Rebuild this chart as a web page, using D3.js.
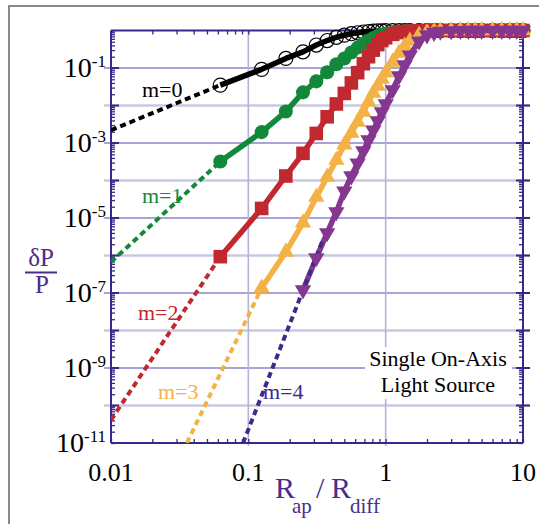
<!DOCTYPE html>
<html lang="en">
<head>
<meta charset="UTF-8">
<title>dP/P vs Rap/Rdiff</title>
<style>
  body { margin: 0; background: #fff; }
  text { font-family: "Liberation Serif", "Times New Roman", serif; }
</style>
</head>
<body>
<script src="https://cdn.jsdelivr.net/npm/d3@7/dist/d3.min.js"></script>
<script>
// sampled radii (Rap / Rdiff) where markers sit
var xs = [0.0625, 0.125, 0.1875, 0.25, 0.3125, 0.375, 0.4375, 0.5, 0.5625, 0.625, 0.6875, 0.75,
          0.8125, 0.875, 0.9375, 1, 1.125, 1.25, 1.375, 1.5, 1.75, 2, 2.25, 2.5, 3, 3.5, 4, 4.5,
          5, 6, 7, 8, 9, 10];

// dP/P, one value per xs entry (null = no marker)
var m0 = [0.035, 0.092, 0.18, 0.27, 0.41, 0.54, 0.66, 0.75, 0.82, 0.87, 0.91, 0.94,
          0.96, 0.97, 0.98, 0.985, 0.99, 0.995, 1, 1, 1, 1, 1, 1, 1, 1, 1, 1, 1, 1, 1, 1, 1, 1];
var m1 = [3.2e-4, 1.95e-3, 6.9e-3, 0.0224, 0.044, 0.077, 0.126, 0.18, 0.26, 0.35, 0.45, 0.54,
          0.63, 0.71, 0.78, 0.83, 0.90, 0.94, 0.965, 0.98, 0.99, 1, 1, 1, 1, 1, 1, 1, 1, 1, 1, 1, 1, 1];
var m2 = [9.3e-7, 1.8e-5, 1.32e-4, 5.3e-4, 1.8e-3, 5.0e-3, 0.011, 0.021, 0.040, 0.075, 0.13, 0.20,
          0.30, 0.42, 0.54, 0.64, 0.79, 0.88, 0.93, 0.96, 0.985, 0.995, 1, 1, 1, 1, 1, 1, 1, 1, 1, 1, 1, 1];
var m3 = [null, 1.36e-7, 1.24e-6, 7.4e-6, 3.6e-5, 1.24e-4, 3.5e-4, 8.9e-4, 1.85e-3, 3.6e-3, 6.7e-3, 0.0124,
          0.0215, 0.033, 0.051, 0.074, 0.145, 0.25, 0.386, 0.525, 0.76, 0.885, 0.95, 0.98, 0.99, 1, 1, 1, 1, 1, 1, 1, 1, 1];
var m4 = [null, null, null, 1.2e-7, 8.6e-7, 4.0e-6, 1.45e-5, 5.2e-5, 1.32e-4, 2.9e-4, 6.1e-4, 1.2e-3,
          2.2e-3, 3.9e-3, 6.7e-3, 0.011, 0.026, 0.061, 0.12, 0.22, 0.52, 0.76, 0.885, 0.95, 0.98, 0.99, 1, 1, 1, 1, 1, 1, 1, 1];

// small-radius asymptotes (dashed), start and end points
var dashX0 = [0.01, 0.0625],  dashY0 = [2.2e-3, 0.035];
var dashX1 = [0.01, 0.0625],  dashY1 = [6.7e-7, 3.2e-4];
var dashX2 = [0.01, 0.0625],  dashY2 = [4.1e-11, 9.3e-7];
var dashX3 = [0.0357, 0.125], dashY3 = [1e-11, 1.36e-7];
var dashX4 = [0.0915, 0.35],  dashY4 = [1e-11, 2.7e-6];

var xTicks = [0.01, 0.1, 1, 10];
var xTickLabels = ["0.01", "0.1", "1", "10"];
var yTickExp = [-1, -3, -5, -7, -9, -11];
var labels = ["m=0", "m=1", "m=2", "m=3", "m=4"];

var W = 539, H = 524;
var svg = d3.select('body').append('svg').attr('width', W).attr('height', H);

var x = d3.scaleLog().domain([0.01, 10]).range([111, 523]);
var y = d3.scaleLog().domain([1e-11, 1]).range([443, 30.5]);

var axisColor = '#36288a';

// outer frame
svg.append('rect').attr('x', 9).attr('y', 6).attr('width', 560).attr('height', 560)
  .attr('fill', 'none').attr('stroke', '#8a8a8a').attr('stroke-width', 2);

// horizontal grid, every decade
for (var e = -10; e <= -1; e++) {
  var odd = Math.abs(e) % 2 === 1;
  svg.append('line').attr('x1', 104).attr('x2', 530)
    .attr('y1', y(Math.pow(10, e))).attr('y2', y(Math.pow(10, e)))
    .attr('stroke', odd ? '#8c85c8' : '#c9c8e2').attr('stroke-width', odd ? 1.3 : 2.6);
}
// vertical grid
[0.1, 1].forEach(function (v) {
  svg.append('line').attr('x1', x(v)).attr('x2', x(v)).attr('y1', 30.5).attr('y2', 446)
    .attr('stroke', '#b3b2da').attr('stroke-width', 1.6);
});

// axes with minor ticks
var g = svg.append('g');
g.append('line').attr('x1', 111).attr('x2', 111).attr('y1', 30.5).attr('y2', 443).attr('stroke', axisColor).attr('stroke-width', 2);
g.append('line').attr('x1', 523).attr('x2', 523).attr('y1', 30.5).attr('y2', 443).attr('stroke', axisColor).attr('stroke-width', 2);
g.append('line').attr('x1', 111).attr('x2', 523).attr('y1', 443).attr('y2', 443).attr('stroke', axisColor).attr('stroke-width', 2);
g.append('line').attr('x1', 111).attr('x2', 523).attr('y1', 30.5).attr('y2', 30.5).attr('stroke', axisColor).attr('stroke-width', 2);

var yAxisL = d3.axisRight(y).ticks(12).tickSize(4).tickFormat('');
var yAxisR = d3.axisLeft(y).ticks(12).tickSize(4).tickFormat('');
var xAxisB = d3.axisTop(x).ticks(10).tickSize(4).tickFormat('');
var xAxisT = d3.axisBottom(x).ticks(10).tickSize(4).tickFormat('');
[[yAxisL, 'translate(111,0)'], [yAxisR, 'translate(523,0)'], [xAxisB, 'translate(0,443)'], [xAxisT, 'translate(0,30.5)']]
  .forEach(function (a) {
    var ax = svg.append('g').attr('transform', a[1]).call(a[0]);
    ax.select('.domain').remove();
    ax.selectAll('line').attr('stroke', axisColor).attr('stroke-width', 1.3);
  });
// major ticks on y axes
for (var e2 = -10; e2 <= -1; e2++) {
  var yy = y(Math.pow(10, e2));
  svg.append('line').attr('x1', 111).attr('x2', 119).attr('y1', yy).attr('y2', yy).attr('stroke', axisColor).attr('stroke-width', 2);
  svg.append('line').attr('x1', 516).attr('x2', 530).attr('y1', yy).attr('y2', yy).attr('stroke', axisColor).attr('stroke-width', 2);
}

// tick labels
yTickExp.forEach(function (p) {
  var t = svg.append('text').attr('x', 106).attr('y', y(Math.pow(10, p)) + 9)
    .attr('text-anchor', 'end').attr('fill', '#000');
  t.append('tspan').attr('font-size', 28).text('10');
  t.append('tspan').attr('font-size', 17).attr('dy', -10).text(String(p));
});
xTicks.forEach(function (v, i) {
  svg.append('text').attr('x', x(v)).attr('y', 481).attr('text-anchor', 'middle')
    .attr('font-size', 26).attr('fill', '#000').text(xTickLabels[i]);
});

// axis titles
var purple = '#4a2c8c';
svg.append('text').attr('x', 275).attr('y', 498).attr('font-size', 30).attr('fill', purple).text('R');
svg.append('text').attr('x', 292).attr('y', 513).attr('font-size', 21).attr('fill', purple).text('ap');
svg.append('text').attr('x', 316).attr('y', 498).attr('font-size', 30).attr('fill', purple).text('/');
svg.append('text').attr('x', 331).attr('y', 498).attr('font-size', 30).attr('fill', purple).text('R');
svg.append('text').attr('x', 350).attr('y', 513).attr('font-size', 21).attr('fill', purple).text('diff');

svg.append('text').attr('x', 41).attr('y', 266).attr('text-anchor', 'middle').attr('font-size', 25).attr('fill', purple).text('δP');
svg.append('line').attr('x1', 25).attr('x2', 57).attr('y1', 272.5).attr('y2', 272.5).attr('stroke', purple).attr('stroke-width', 2);
svg.append('text').attr('x', 42).attr('y', 293).attr('text-anchor', 'middle').attr('font-size', 25).attr('fill', purple).text('P');

// text box
svg.append('rect').attr('x', 365).attr('y', 347).attr('width', 147).attr('height', 52).attr('fill', '#fff');
svg.append('text').attr('x', 438).attr('y', 366).attr('text-anchor', 'middle').attr('font-size', 22).text('Single On-Axis');
svg.append('text').attr('x', 438).attr('y', 392).attr('text-anchor', 'middle').attr('font-size', 22).text('Light Source');

// series
var series = [
  { vals: m0, dx: dashX0, dy: dashY0, color: '#000', dash: '#000', sym: d3.symbolCircle, size: 155, open: true },
  { vals: m1, dx: dashX1, dy: dashY1, color: '#12893a', dash: '#12893a', sym: d3.symbolCircle, size: 155 },
  { vals: m2, dx: dashX2, dy: dashY2, color: '#c2282f', dash: '#c2282f', sym: d3.symbolSquare, size: 185 },
  { vals: m3, dx: dashX3, dy: dashY3, color: '#f2b245', dash: '#f2b245', sym: d3.symbolTriangle, size: 115 },
  { vals: m4, dx: dashX4, dy: dashY4, color: '#85378f', dash: '#3e2a8a', sym: d3.symbolTriangle, size: 115, down: true }
];
var labelPos = [[142, 97, '#000'], [142, 203, '#12893a'], [138, 320, '#c2282f'], [158, 399, '#f2b245'], [263, 399, '#3e2a8a']];

svg.append('clipPath').attr('id', 'plot').append('rect').attr('x', 111).attr('y', 0).attr('width', 430).attr('height', 443);

var line = d3.line().defined(function (d) { return d[1] != null; })
  .x(function (d) { return x(d[0]); }).y(function (d) { return y(d[1]); });

// labels with white backing
labels.forEach(function (s, i) {
  var p = labelPos[i];
  var t = svg.append('text').attr('x', p[0]).attr('y', p[1]).attr('font-size', 22).attr('fill', p[2]).text(s);
  var b = t.node().getBBox();
  svg.insert('rect', function () { return t.node(); })
    .attr('x', b.x - 1).attr('y', b.y + 3).attr('width', b.width + 2).attr('height', b.height - 5).attr('fill', '#fff');
});

series.forEach(function (s) {
  var gs = svg.append('g').attr('clip-path', 'url(#plot)');
  var dashPts = s.dx.map(function (v, i) { return [v, s.dy[i]]; });
  var pts = xs.map(function (v, i) { return [v, s.vals[i]]; }).filter(function (d) { return d[1] != null; });
  gs.append('path').attr('d', line(pts)).attr('fill', 'none').attr('stroke', s.color)
    .attr('stroke-width', 5.5).attr('stroke-linejoin', 'round');
  gs.append('path').attr('d', line(dashPts)).attr('fill', 'none').attr('stroke', s.dash)
    .attr('stroke-width', 4).attr('stroke-dasharray', '6,4');
  var sym = d3.symbol().type(s.sym).size(s.size);
  svg.append('g').selectAll('path').data(pts).join('path')
    .attr('transform', function (d) {
      return 'translate(' + x(d[0]) + ',' + y(d[1]) + ')' + (s.down ? ' rotate(180)' : '');
    })
    .attr('d', sym)
    .attr('fill', s.open ? 'none' : s.color)
    .attr('stroke', s.open ? '#000' : 'none')
    .attr('stroke-width', 1.2);
});
</script>
</body>
</html>
